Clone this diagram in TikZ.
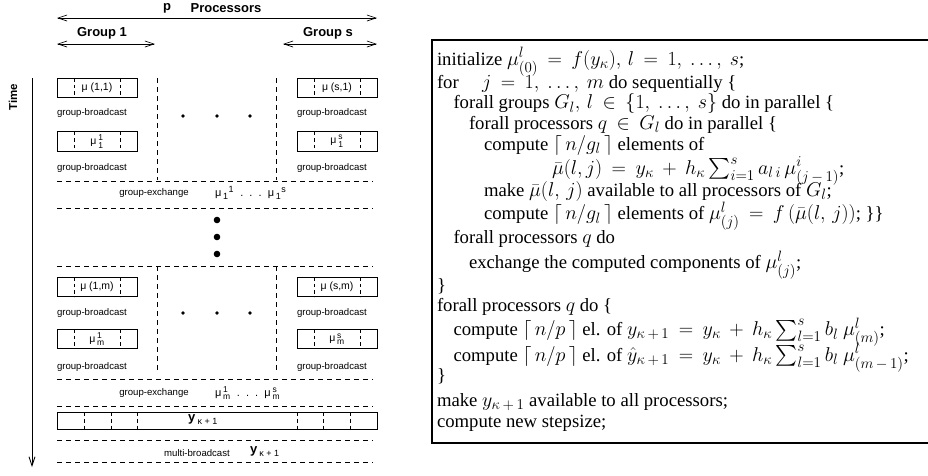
\RequirePackage{fix-cm}
\documentclass[tikz,border=0pt]{standalone}
\usepackage{amsmath}
\usepackage{fontspec}
\setmainfont{Liberation Serif}
\newfontfamily\hv{Liberation Sans}
\usetikzlibrary{arrows.meta}
\DeclareMathSizes{18.7}{20}{15}{11}
\newcommand\sbs[2]{$^{\mbox{\hv\fontsize{8.5}{8.5}\selectfont #1}}_{\mbox{\hv\fontsize{8.5}{8.5}\selectfont #2}}$}
\newcommand\sbafter[2]{$_{\mbox{\hv\fontsize{9}{9}\selectfont #1}}{}^{\mbox{\hv\fontsize{9}{9}\selectfont #2}}$}
\newcommand\divs[2]{\foreach \dx in {#2} \draw[div] ([xshift=\dx pt]#1.north) -- ([xshift=\dx pt]#1.south);}
\newcommand\algfont{\fontsize{18.7}{20}\selectfont\thickmuskip=8.5mu\medmuskip=7.5mu}
\newcommand\kp{\kappa\,+\,1}
\tikzset{
 every node/.style={inner sep=0pt, outer sep=0pt},
 hdr/.style={font=\hv\bfseries\fontsize{13}{14}\selectfont},
 small/.style={font=\hv\fontsize{9.6}{10}\selectfont},
 pbox/.style={draw, line width=0.8pt, minimum width=80pt, minimum height=19.5pt, font=\hv\fontsize{10.5}{11}\selectfont},
 sep/.style={line width=0.6pt, dash pattern=on 5pt off 4pt},
 div/.style={line width=0.6pt, dash pattern=on 3.5pt off 3pt},
 span/.style={line width=0.7pt, {Straight Barb[length=9pt,width=6pt]}-{Straight Barb[length=9pt,width=6pt]}},
 alg/.style={anchor=base west, font=\algfont},
}
\begin{document}
\begin{tikzpicture}[x=1pt,y=-1pt]
\useasboundingbox (0,0) rectangle (928,475);
% ---------- headers ----------
\node[hdr] (p) at (167,8) {p};
\node[hdr] (proc) at (226,8) {Processors};
\coordinate (pL) at (57,18); \coordinate (pR) at (377,18);
\draw[span] (pL) -- (pR);
\node[hdr] (g1) at (102,33) {Group 1};
\node[hdr] (gs) at (328,33) {Group s};
\coordinate (g1L) at (57,44); \coordinate (g1R) at (155,44);
\coordinate (gsL) at (283,44); \coordinate (gsR) at (377,44);
\draw[span] (g1L) -- (g1R);
\draw[span] (gsL) -- (gsR);
% ---------- time axis ----------
\node[hdr, font=\hv\bfseries\fontsize{11.5}{12}\selectfont, rotate=90] (time) at (13,97) {Time};
\coordinate (tT) at (32,78); \coordinate (tB) at (32,467);
\draw[line width=0.8pt, -{Straight Barb[length=9pt,width=6pt]}] (tT) -- (tB);
% ---------- first stage ----------
\node[pbox] (b11) at (97,88) {μ (1,1)};
\node[pbox] (bs1) at (337,88) {μ (s,1)};
\divs{b11}{-23,23}\divs{bs1}{-23,23}
\node[small, anchor=west] (gb1) at (57,113) {group-broadcast};
\node[small, anchor=west] (gb2) at (297,113) {group-broadcast};
\foreach \x in {183,217,250} \fill (\x,116) circle (1.8pt);
\node[pbox] (b12) at (97,141.5) {μ\,\sbs{1}{1}};
\node[pbox] (bs2) at (337,141.5) {μ\,\sbs{s}{1}};
\divs{b12}{-23,23}\divs{bs2}{-23,23}
\node[small, anchor=west] (gb3) at (57,168) {group-broadcast};
\node[small, anchor=west] (gb4) at (297,168) {group-broadcast};
\coordinate (v1T) at (157,78); \coordinate (v1B) at (157,180);
\coordinate (v2T) at (276,78); \coordinate (v2B) at (276,180);
\draw[sep] (v1T) -- (v1B); \draw[sep] (v2T) -- (v2B);
% ---------- separators ----------
\foreach \y/\n in {181/h1,208/h2,266/h3,379/h4,406/h5,440/h6,462/h7}{
  \coordinate (\n L) at (57,\y); \coordinate (\n R) at (373,\y);
  \draw[sep] (\n L) -- (\n R);
}
\node[small] (ge1) at (154,193) {group-exchange};
\node[font=\hv\fontsize{11}{12}\selectfont, anchor=west] (mu1) at (215,193) {μ\,\sbafter{1}{1}\ \ .\ \ .\ \ .\ \ μ\,\sbafter{1}{s}};
\foreach \y in {220,237,254} \fill (217,\y) circle (3.3pt);
% ---------- stage m ----------
\node[pbox] (bm1) at (97,287) {μ (1,m)};
\node[pbox] (bsm1) at (337,287) {μ (s,m)};
\divs{bm1}{-23,23}\divs{bsm1}{-23,23}
\node[small, anchor=west] (gb5) at (57,313) {group-broadcast};
\node[small, anchor=west] (gb6) at (297,313) {group-broadcast};
\foreach \x in {183,217,250} \fill (\x,313) circle (1.8pt);
\node[pbox] (bm2) at (97,339) {μ\,\sbs{1}{m}};
\node[pbox] (bsm2) at (337,339) {μ\,\sbs{s}{m}};
\divs{bm2}{-23,23}\divs{bsm2}{-23,23}
\node[small, anchor=west] (gb7) at (57,367) {group-broadcast};
\node[small, anchor=west] (gb8) at (297,367) {group-broadcast};
\coordinate (v3T) at (157,266); \coordinate (v3B) at (157,373);
\coordinate (v4T) at (276,266); \coordinate (v4B) at (276,373);
\draw[sep] (v3T) -- (v3B); \draw[sep] (v4T) -- (v4B);
\node[small] (ge2) at (154,393) {group-exchange};
\node[font=\hv\fontsize{11}{12}\selectfont, anchor=west] (mum) at (215,393) {μ\,\sbs{1}{m}\ \ .\ \ .\ \ .\ \ μ\,\sbs{s}{m}};
% ---------- y box ----------
\node[draw, line width=0.8pt, minimum width=320pt, minimum height=17pt] (yb) at (217,421) {};
\divs{yb}{-133,-106,-80,80,106,133}
\node[font=\hv\bfseries\fontsize{13}{14}\selectfont] (yt) at (203,420) {y\,{\mdseries\fontsize{9}{9}\selectfont$_{\mbox{\hv κ + 1}}$}};
\node[small] (mb) at (197,453) {multi-broadcast};
\node[font=\hv\bfseries\fontsize{13}{14}\selectfont, anchor=west] (yt2) at (250,452) {y\,{\mdseries\fontsize{9}{9}\selectfont$_{\mbox{\hv κ + 1}}$}};
% ---------- algorithm ----------
\coordinate (bT) at (432,40); \coordinate (bB) at (945,443);
\draw[line width=2.2pt] (bT) rectangle (bB);
\node[alg] (l1) at (437,65.1) {initialize $\mu^{l}_{(0)} = f(y_\kappa),\, l = 1,\ \ldots,\ s$;};
\node[alg] (l2) at (437,88.2) {for\quad\ $j = 1,\ \ldots,\ m$ do sequentially \{};
\node[alg] (l3) at (453.5,108.5) {forall groups $G_l,\, l \in \{1,\ \ldots,\ s\}$ do in parallel \{};
\node[alg] (l4) at (469,129.1) {forall processors $q \in G_l$ do in parallel \{};
\node[alg] (l5) at (484,150.1) {compute $\lceil\, n/g_l\,\rceil$ elements of};
\node[alg] (l6) at (552,174) {$\bar\mu(l,j) = y_\kappa + h_\kappa \sum_{i=1}^{s} a_{l\,i}\,\mu^{i}_{(j\,-\,1)}$;};
\node[alg] (l7) at (484,196.1) {make $\bar\mu(l,\,j)$ available to all processors of $G_l$;};
\node[alg] (l8) at (484,219.5) {compute $\lceil\, n/g_l\,\rceil$ elements of $\mu^{l}_{(j)} = f\,(\bar\mu(l,\,j))$; \}\}};
\node[alg] (l9) at (453.5,243.5) {forall processors $q$ do};
\node[alg] (l10) at (469,268.5) {exchange the computed components of $\mu^{l}_{(j)}$;};
\node[alg] (l11) at (437,291.5) {\}};
\node[alg] (l12) at (437,311.5) {forall processors $q$ do \{};
\node[alg] (l13) at (453.5,335.5) {compute $\lceil\, n/p\,\rceil$ el. of $y_{\kp} = y_\kappa + h_\kappa \sum_{l=1}^{s} b_l\ \mu^{l}_{(m)}$;};
\node[alg] (l14) at (453.5,361) {compute $\lceil\, n/p\,\rceil$ el. of $\hat y_{\kp} = y_\kappa + h_\kappa \sum_{l=1}^{s} b_l\ \mu^{l}_{(m\,-\,1)}$;};
\node[alg] (l15) at (437,381.5) {\}};
\node[alg] (l16) at (437,406.5) {make $y_{\kp}$ available to all processors;};
\node[alg] (l17) at (437,427.5) {compute new stepsize;};
\end{tikzpicture}
\end{document}
